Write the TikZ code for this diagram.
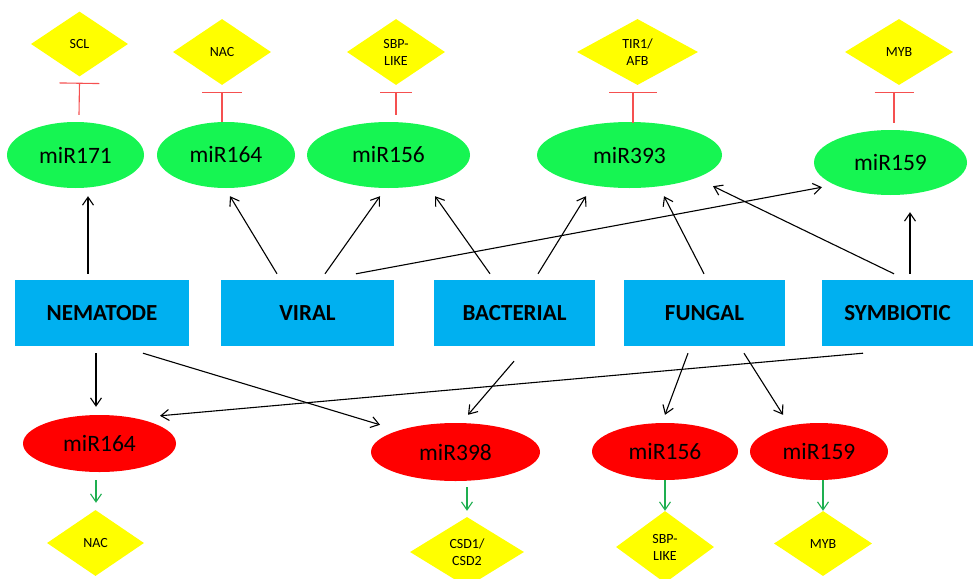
\documentclass[tikz,border=0pt]{standalone}
\usepackage{fontspec}
\setmainfont{Carlito}
\usetikzlibrary{shapes.geometric,arrows.meta}
\definecolor{egreen}{RGB}{22,245,82}
\definecolor{eblue}{RGB}{0,176,240}
\definecolor{ered}{RGB}{255,0,0}
\definecolor{dyellow}{RGB}{255,255,0}
\definecolor{inhred}{RGB}{245,80,80}
\definecolor{actgreen}{RGB}{30,175,80}
\begin{document}
\begin{tikzpicture}[x=1pt,y=-1pt,
  gell/.style={ellipse,fill=egreen,inner sep=0pt,font=\fontsize{23.5}{26}\selectfont},
  rell/.style={ellipse,fill=ered,inner sep=0pt,font=\fontsize{23.5}{26}\selectfont},
  pbox/.style={rectangle,fill=eblue,inner sep=0pt,minimum height=66pt,font=\bfseries\fontsize{23}{26}\selectfont},
  gdia/.style={diamond,fill=dyellow,inner sep=0pt,align=center,font=\fontsize{14}{17}\selectfont},
  arr/.style={draw=black,line width=1.1pt,-{Straight Barb[length=8pt,width=11pt,line width=1.1pt]}},
  inh/.style={draw=inhred,line width=1.1pt},
  act/.style={draw=actgreen,line width=1.1pt,-{Straight Barb[length=8pt,width=11pt,line width=1.1pt]}}
]
\useasboundingbox (0,0) rectangle (973,578);
% top green ellipses
\node[gell,minimum width=137pt,minimum height=66pt] (g171) at (75.5,155) {miR171};
\node[gell,minimum width=138pt,minimum height=66pt] (g164) at (226,155) {miR164};
\node[gell,minimum width=163pt,minimum height=66pt] (g156) at (388.5,155) {miR156};
\node[gell,minimum width=185pt,minimum height=66pt] (g393) at (629.5,155) {miR393};
\node[gell,minimum width=153pt,minimum height=65pt] (g159) at (890.5,162.5) {miR159};
% top diamonds
\node[gdia,minimum width=97pt,minimum height=65pt] (dscl) at (79.5,44) {SCL};
\node[gdia,minimum width=98pt,minimum height=66pt] (dnac) at (222,52) {NAC};
\node[gdia,minimum width=98pt,minimum height=66pt] (dsbp) at (396,52) {SBP-\\LIKE};
\node[gdia,minimum width=121pt,minimum height=66pt] (dtir) at (637.5,52) {TIR1/\\AFB};
\node[gdia,minimum width=108pt,minimum height=66pt] (dmyb) at (899,52) {MYB};
% boxes
\node[pbox,minimum width=174pt] (nem) at (102,313) {NEMATODE};
\node[pbox,minimum width=173pt] (vir) at (307.5,313) {VIRAL};
\node[pbox,minimum width=161pt] (bac) at (514.5,313) {BACTERIAL};
\node[pbox,minimum width=161pt] (fun) at (704.5,313) {FUNGAL};
\node[pbox,minimum width=151pt] (sym) at (897.5,313) {SYMBIOTIC};
% bottom red ellipses
\node[rell,minimum width=153pt,minimum height=57pt] (r164) at (99.5,443.5) {miR164};
\node[rell,minimum width=169pt,minimum height=58pt] (r398) at (455.5,452) {miR398};
\node[rell,minimum width=146pt,minimum height=57pt] (r156) at (665,451.5) {miR156};
\node[rell,minimum width=138pt,minimum height=57pt] (r159) at (819,451.5) {miR159};
% bottom diamonds
\node[gdia,minimum width=97pt,minimum height=66pt] (bnac) at (95.5,543) {NAC};
\node[gdia,minimum width=114pt,minimum height=70pt] (bcsd) at (467,552) {CSD1/\\CSD2};
\node[gdia,minimum width=98pt,minimum height=72pt] (bsbp) at (665,547) {SBP-\\LIKE};
\node[gdia,minimum width=98pt,minimum height=65pt] (bmyb) at (823,543.5) {MYB};
% inhibition
\draw[inh,-{Bar[width=40pt,line width=1.1pt]}] ([xshift=3.5pt,yshift=7pt]g171.north) -- ([yshift=-6pt]dscl.south);
\draw[inh,-{Bar[width=40pt,line width=1.1pt]}] (g164.north -| dnac.south) -- ([yshift=-7pt]dnac.south);
\draw[inh,-{Bar[width=32pt,line width=1.1pt]}] ([xshift=7.5pt,yshift=7pt]g156.north) -- ([yshift=-7pt]dsbp.south);
\draw[inh,-{Bar[width=48pt,line width=1.1pt]}] ([xshift=3.5pt,yshift=-1pt]g393.north) -- ([xshift=-4.5pt,yshift=-7pt]dtir.south);
\draw[inh,-{Bar[width=39pt,line width=1.1pt]}] ([xshift=3.5pt,yshift=7pt]g159.north) -- ([xshift=-5pt,yshift=-7pt]dmyb.south);
% black arrows top
\draw[arr] ([xshift=-14pt,yshift=6pt]nem.north) -- ([xshift=12.5pt,yshift=-8pt]g171.south);
\draw[arr] ([xshift=-30.5pt,yshift=6pt]vir.north) -- ([xshift=4pt,yshift=-8pt]g164.south);
\draw[arr] ([xshift=17.5pt,yshift=6pt]vir.north) -- ([xshift=-8.5pt,yshift=-8pt]g156.south);
\draw[arr] ([xshift=48.5pt,yshift=6pt]vir.north) -- ([xshift=-68.5pt,yshift=8pt]g159.south);
\draw[arr] ([xshift=-24.5pt,yshift=6pt]bac.north) -- ([xshift=46.5pt,yshift=-8pt]g156.south);
\draw[arr] ([xshift=23.5pt,yshift=6pt]bac.north) -- ([xshift=-43.5pt,yshift=-8pt]g393.south);
\draw[arr] ([xshift=-0.5pt,yshift=6pt]fun.north) -- ([xshift=34.5pt,yshift=-8pt]g393.south);
\draw[arr] ([xshift=-3.5pt,yshift=6pt]sym.north) -- ([xshift=83.5pt,yshift=2pt]g393.south);
\draw[arr] ([xshift=12.5pt,yshift=6pt]sym.north) -- ([xshift=19.5pt,yshift=-17pt]g159.south);
% black arrows bottom
\draw[arr] ([xshift=-6pt,yshift=-7pt]nem.south) -- ([xshift=-3.5pt,yshift=8pt]r164.north);
\draw[arr] ([xshift=41pt,yshift=-7pt]nem.south) -- ([xshift=-75.5pt,yshift=-2pt]r398.north);
\draw[arr] ([xshift=-34.5pt,yshift=-7pt]sym.south) -- ([xshift=60.5pt,yshift=-1pt]r164.north);
\draw[arr] ([xshift=-0.5pt,yshift=-15pt]bac.south) -- ([xshift=12.5pt,yshift=8pt]r398.north);
\draw[arr] ([xshift=-16.5pt,yshift=-7pt]fun.south) -- ([yshift=8pt]r156.north);
\draw[arr] ([xshift=39.5pt,yshift=-7pt]fun.south) -- ([xshift=-36pt,yshift=8pt]r159.north);
% green arrows
\draw[act] ([xshift=-3.5pt,yshift=-8pt]r164.south) -- ([xshift=0.5pt,yshift=7pt]bnac.north);
\draw[act] ([xshift=11.5pt,yshift=-6pt]r398.south) -- ([yshift=6pt]bcsd.north);
\draw[act] (r156.south) -- (bsbp.north);
\draw[act] ([xshift=4pt]r159.south) -- (bmyb.north);
\end{tikzpicture}
\end{document}
